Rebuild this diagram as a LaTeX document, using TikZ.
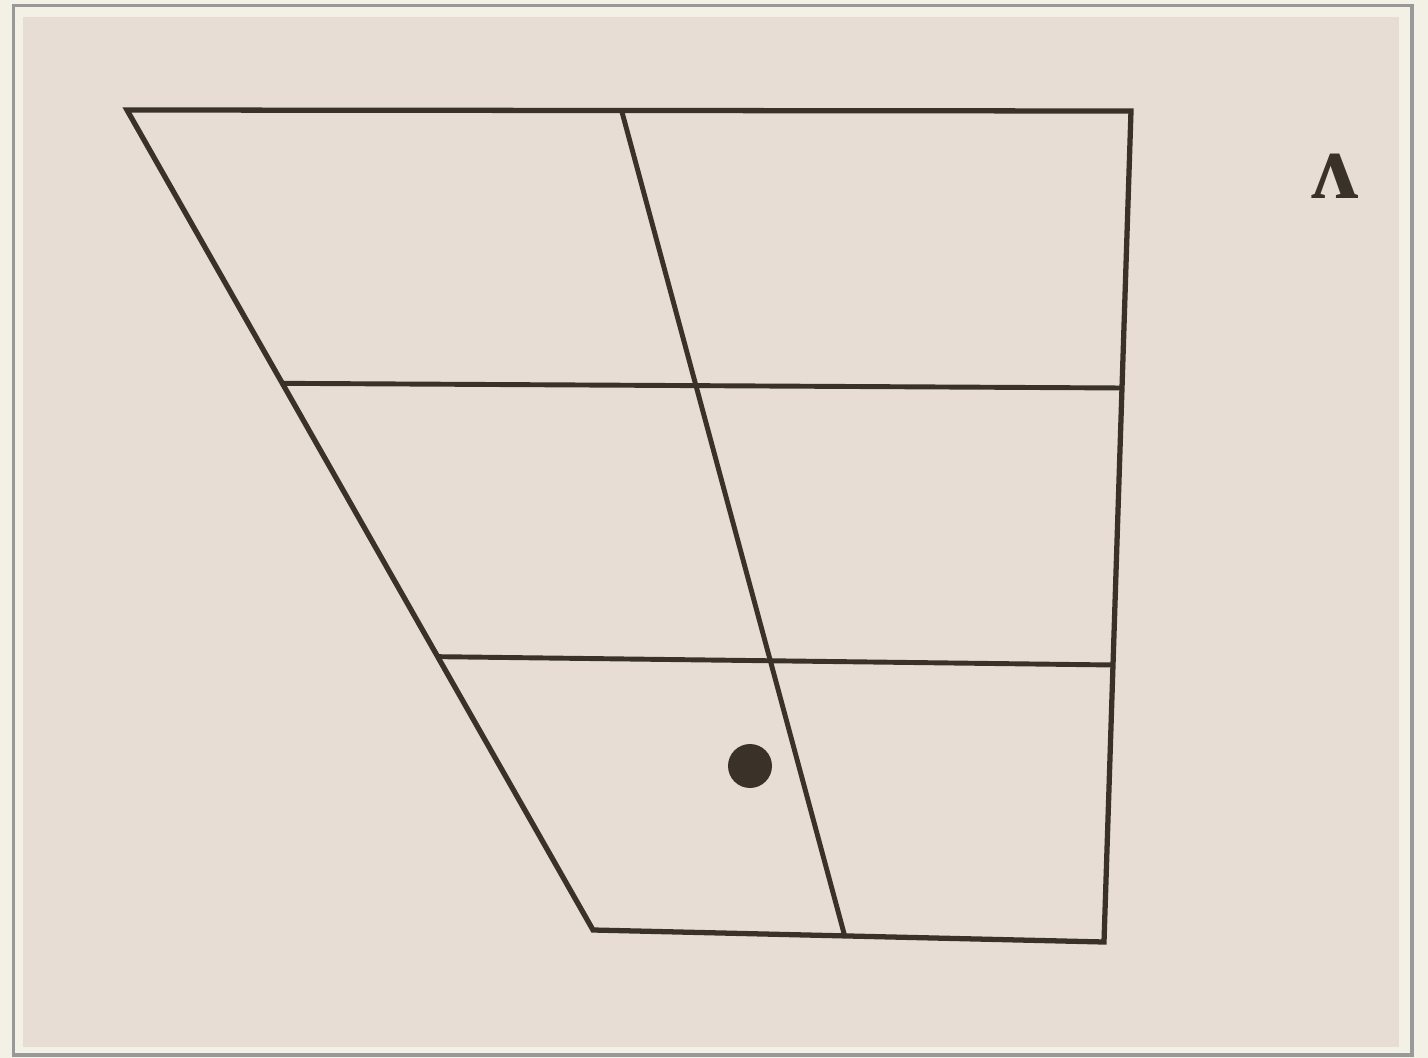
\documentclass[tikz,border=0pt]{standalone}
\usepackage{fontspec}
\newfontfamily\ipafont{Liberation Serif}
\usetikzlibrary{calc}
\definecolor{page}{HTML}{F3F1E6}
\definecolor{paper}{HTML}{E7DDD4}
\definecolor{ink}{HTML}{3A3129}
\tikzset{
  chart/.style={draw=ink, line width=3pt, line join=miter},
  grid line/.style={draw=ink, line width=2.8pt},
  vowel dot/.style={circle, fill=ink, inner sep=0pt, minimum size=0.88cm},
  symbol/.style={font=\ipafont\bfseries\fontsize{54}{60}\selectfont, text=ink}
}
\begin{document}
\begin{tikzpicture}[x=0.02cm, y=-0.02cm]
  \useasboundingbox (0,0) rectangle (1428,1058);
  \fill[page] (0,0) rectangle (1428,1058);
  \draw[gray!80, line width=2.2pt] (13.5,5.5) rectangle (1412,1055);
  \fill[paper] (23,17) rectangle (1399,1047);
  % corners of the chart
  \coordinate (tl) at (127,110);
  \coordinate (tr) at (1131,111);
  \coordinate (br) at (1104,942);
  \coordinate (bl) at (593,930);
  \coordinate (tm) at (622,112);
  \coordinate (bm) at (845,937);
  \draw[chart] (tl) -- (tr) -- (br) -- (bl) -- cycle;
  \draw[grid line] (tm) -- (bm);
  \foreach \t in {1,2}{
    \draw[grid line] ($(tl)!\t/3!(bl)$) -- ($(tr)!\t/3!(br)$);
  }
  \node[vowel dot] (dot) at (750,766) {};
  \node[symbol] (wedge) at (1335,176) {ʌ};
\end{tikzpicture}
\end{document}
